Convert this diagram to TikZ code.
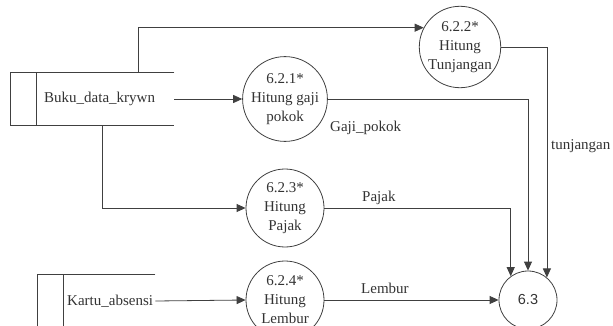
\documentclass[tikz,border=0pt]{standalone}
\usepackage{fontspec}
\setmainfont{Liberation Serif}
\setsansfont{Liberation Sans}
\usetikzlibrary{arrows.meta}

\begin{document}
\begin{tikzpicture}[x=1pt, y=-1pt, style={
    dfd/.style={
      draw=black!75,
      line width=0.8pt,
    },
    textfont/.style={
      font=\fontsize{15}{19}\selectfont,
      text=black!80,
    },
    procstyle/.style={
      dfd, circle, textfont,
      minimum size=78pt,
      inner sep=0pt,
      align=center,
    },
    endstyle/.style={
      procstyle,
      minimum size=58pt,
      font=\sffamily\fontsize{14.5}{19}\selectfont,
    },
    storestyle/.style={
      textfont,
      anchor=west,
      minimum height=52pt,
      align=left,
    },
    labelstyle/.style={
      textfont,
      anchor=west,
      inner sep=0pt,
    },
    myarrow/.style={dfd, -{Triangle[length=9pt,width=8pt]}}
  }]
  \useasboundingbox (0,0) rectangle (613,326);
  \clip (0,0) rectangle (613,326);

  % data stores
  \node[storestyle, inner xsep=8pt, text width=122pt] (buku) at (36,99) {Buku\_data\_krywn};
  \node[storestyle, inner xsep=4pt, text width=84pt] (kartu) at (63,301) {Kartu\_absensi};
  \draw[dfd] (buku.north east) -| ([xshift=-26pt]buku.south west) -- (buku.south east);
  \draw[dfd] (buku.north west) -- (buku.south west);
  \draw[dfd] (kartu.north east) -| ([xshift=-26pt]kartu.south west) -- (kartu.south east);
  \draw[dfd] (kartu.north west) -- (kartu.south west);

  % processes
  \node[procstyle] (p621) at (285,99) {6.2.1*\\Hitung gaji\\pokok};
  \node[procstyle] (p622) at (460,47) {6.2.2*\\Hitung\\Tunjangan};
  \node[procstyle] (p623) at (285,208) {6.2.3*\\Hitung\\Pajak};
  \node[procstyle] (p624) at (285,300) {6.2.4*\\Hitung\\Lembur};
  \node[endstyle] (p63) at (528,300) {6.3};

  % flows
  \draw[myarrow] (buku.east) -- (p621.west);
  \draw[myarrow] ([xshift=33pt]buku.north) |- (p622.152);
  \draw[myarrow] ([xshift=-3pt]buku.south) |- (p623.west);
  \draw[myarrow] (kartu.east) -- (p624.west);
  \draw[myarrow] (p621.east) -| (p63.north);
  \draw[myarrow] (p622.east) -| (p63.50);
  \draw[myarrow] (p623.east) -| (p63.126);
  \draw[myarrow] (p624.east) -- (p63.west);

  % flow labels
  \node[labelstyle] (lgaji) at (330,128) {Gaji\_pokok};
  \node[labelstyle] (ltunj) at (551,146) {tunjangan};
  \node[labelstyle] (lpajak) at (362,198) {Pajak};
  \node[labelstyle] (llembur) at (361,288) {Lembur};
\end{tikzpicture}
\end{document}
